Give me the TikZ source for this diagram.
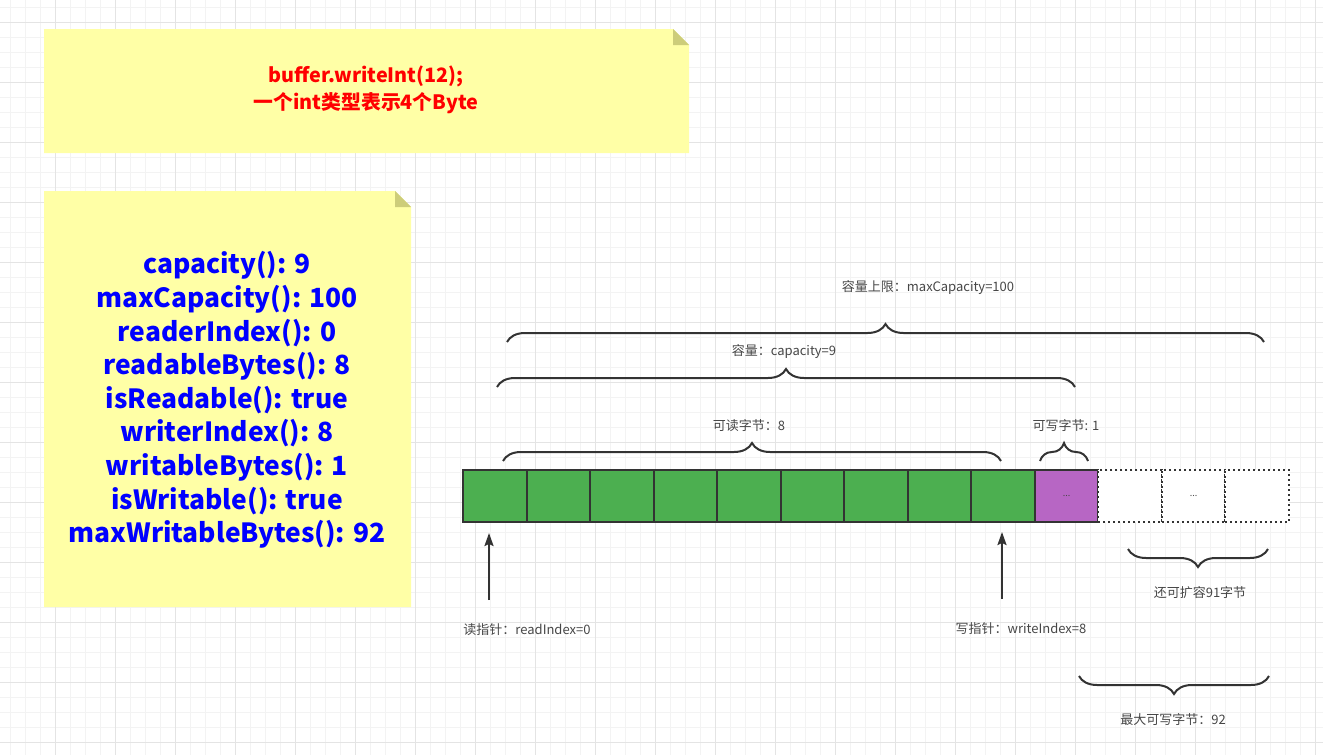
\documentclass[tikz,border=0pt]{standalone}
\usepackage{fontspec}
\setmainfont{Noto Sans CJK SC}
\usepackage{tikz}
\usetikzlibrary{arrows.meta, decorations.pathreplacing}
\definecolor{noteyellow}{RGB}{255,255,166}
\definecolor{notefold}{RGB}{205,205,122}
\definecolor{bytegreen}{RGB}{76,175,80}
\definecolor{bytepurple}{RGB}{183,102,196}
\definecolor{linegray}{RGB}{51,51,51}
\definecolor{textgray}{RGB}{70,70,70}
\definecolor{gridminor}{RGB}{243,243,243}
\definecolor{gridmajor}{RGB}{228,228,228}
\tikzset{cell/.style = {shape = rectangle, draw = linegray, line width = 2pt, minimum width = 63.54pt, minimum height = 52pt, inner sep = 0pt, font = \fontsize{9}{10}\selectfont, text = textgray}}
\tikzset{usedcell/.style = {cell, fill = bytegreen}}
\tikzset{writecell/.style = {cell, fill = bytepurple}}
\tikzset{freecell/.style = {cell, fill = white, dash pattern = on 2pt off 3pt}}
\tikzset{bytebrace/.style = {draw = linegray, line width = 2pt, decorate, decoration = {brace, amplitude = 18pt}}}
\tikzset{pointer/.style = {draw = linegray, line width = 2pt, -{Stealth[length = 13pt, width = 9pt, inset = 2pt]}}}
\tikzset{remark/.style = {text = textgray, font = \fontsize{13}{15}\selectfont, inner sep = 0pt}}

\begin{document}
\begin{tikzpicture}[x = 1pt, y = -1pt]
				\useasboundingbox (0, 0) rectangle (1323, 755);
				% background grid
				\foreach \k in {0, ..., 87} \draw[gridminor, line width = 1pt] (10.5 + 15*\k, 0) -- (10.5 + 15*\k, 755);
				\foreach \k in {0, ..., 50} \draw[gridminor, line width = 1pt] (0, 7 + 15*\k) -- (1323, 7 + 15*\k);
				\foreach \k in {0, ..., 21} \draw[gridmajor, line width = 1pt] (55.5 + 60*\k, 0) -- (55.5 + 60*\k, 755);
				\foreach \k in {0, ..., 12} \draw[gridmajor, line width = 1pt] (0, 22 + 60*\k) -- (1323, 22 + 60*\k);

				% notes
				\fill[noteyellow] (44, 29) -- (673, 29) -- (689, 45) -- (689, 153) -- (44, 153) -- cycle;
				\fill[notefold] (673, 29) -- (689, 45) -- (673, 45) -- cycle;
				\node[text = red, align = center, font = \fontsize{19.8}{27}\selectfont\bfseries] (call) at (366, 90) {buffer.writeInt(12);\\一个int类型表示4个Byte};

				\fill[noteyellow] (44, 191) -- (395, 191) -- (411, 207) -- (411, 607) -- (44, 607) -- cycle;
				\fill[notefold] (395, 191) -- (411, 207) -- (395, 207) -- cycle;
				\node[text = blue, align = center, font = \fontsize{26.4}{33.6}\selectfont\bfseries] (state) at (227, 400) {capacity(): 9\\maxCapacity(): 100\\readerIndex(): 0\\readableBytes(): 8\\isReadable(): true\\writerIndex(): 8\\writableBytes(): 1\\isWritable(): true\\maxWritableBytes(): 92};

				% bytes
				\foreach \i in {1, ..., 9} \node[usedcell] (b\i) at (463 + 63.54*\i - 31.77, 496) {};
				\node[writecell] (b10) at (463 + 63.54*10 - 31.77, 496) {...};
				\node[freecell] (b11) at (463 + 63.54*11 - 31.77, 496) {};
				\node[freecell] (b12) at (463 + 63.54*12 - 31.77, 496) {...};
				\node[freecell] (b13) at (463 + 63.54*13 - 31.77, 496) {};

				% braces
				\coordinate (maxL) at (507, 342);
				\coordinate (maxR) at (1264, 342);
				\coordinate (capL) at (497, 387);
				\coordinate (capR) at (1075, 387);
				\coordinate (rdL) at (503, 461);
				\coordinate (rdR) at (1001, 461);
				\coordinate (wrL) at (1040, 461);
				\coordinate (wrR) at (1088, 461);
				\coordinate (extL) at (1128, 549);
				\coordinate (extR) at (1268, 549);
				\coordinate (mwL) at (1079, 676);
				\coordinate (mwR) at (1269, 676);
				\draw[bytebrace] (maxL) -- (maxR);
				\draw[bytebrace] (capL) -- (capR);
				\draw[bytebrace] (rdL) -- (rdR);
				\draw[bytebrace] (wrL) -- (wrR);
				\draw[bytebrace] (extR) -- (extL);
				\draw[bytebrace] (mwR) -- (mwL);

				\node[remark] (maxText) at (928, 288) {容量上限：maxCapacity=100};
				\node[remark] (capText) at (784, 352) {容量：capacity=9};
				\node[remark] (rdText) at (749, 426) {可读字节：8};
				\node[remark] (wrText) at (1066, 426) {可写字节: 1};
				\node[remark] (extText) at (1200, 593) {还可扩容91字节};
				\node[remark] (mwText) at (1173, 720) {最大可写字节：92};

				% pointers
				\coordinate (rdTail) at (489, 600);
				\coordinate (rdHead) at (489, 533);
				\coordinate (wrTail) at (1002, 599);
				\coordinate (wrHead) at (1002, 532);
				\draw[pointer] (rdTail) -- (rdHead);
				\draw[pointer] (wrTail) -- (wrHead);
				\node[remark] (rdPtr) at (527, 630) {读指针：readIndex=0};
				\node[remark] (wrPtr) at (1021, 629) {写指针：writeIndex=8};
			\end{tikzpicture}
\end{document}
